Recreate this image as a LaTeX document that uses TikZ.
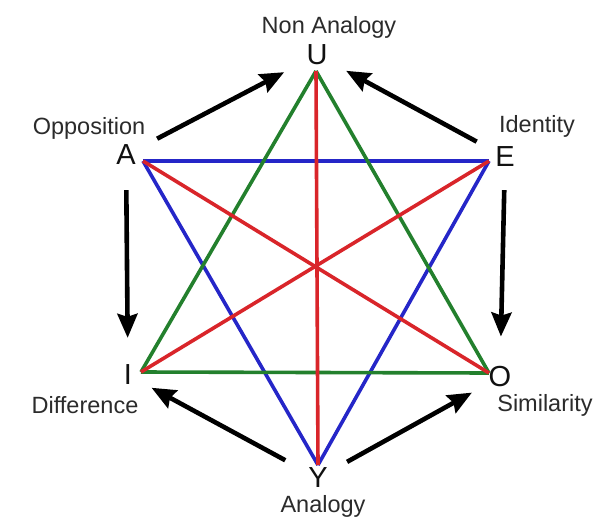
\documentclass[tikz,border=0pt]{standalone}
\usepackage{fontspec}
\setmainfont{Liberation Sans}
\usetikzlibrary{arrows.meta}
\definecolor{ink}{HTML}{111111}
\definecolor{muted}{HTML}{2B2B2B}
\definecolor{redline}{HTML}{D9252A}
\definecolor{blueline}{HTML}{2526C8}
\definecolor{greenline}{HTML}{23802D}
\tikzset{
  vertex/.style={font=\fontsize{29}{31}\selectfont,text=ink,inner sep=0pt},
  tag/.style={font=\fontsize{23.5}{26}\selectfont,text=muted,inner sep=0pt},
  link/.style={line width=3.6pt,draw=#1},
  turn/.style={-{Stealth[length=24pt,width=20pt,inset=3pt]},line width=4.6pt,draw=black}
}
\begin{document}
\begin{tikzpicture}[x=1pt,y=-1pt]
    \useasboundingbox[fill=white] (0,0) rectangle (614,528);

    % letters at the corners
    \node[vertex] (U) at (317,55) {U};
    \node[vertex] (A) at (126,155) {A};
    \node[vertex] (E) at (505,157) {E};
    \node[vertex] (I) at (128,375) {I};
    \node[vertex] (O) at (500,377) {O};
    \node[vertex] (Y) at (318,478) {Y};

    \node[tag] (nonanalogy) at (329,27) {Non Analogy};
    \node[tag] (opposition) at (89,128) {Opposition};
    \node[tag] (identity) at (537,126) {Identity};
    \node[tag] (difference) at (85,405) {Difference};
    \node[tag] (similarity) at (545,405) {Similarity};
    \node[tag] (analogy) at (323,506) {Analogy};

    % where the coloured lines meet
    \coordinate (u) at (316,71);
    \coordinate (a) at (143,161);
    \coordinate (e) at (489,161);
    \coordinate (i) at (141,372);
    \coordinate (o) at (489,373);
    \coordinate (y) at (318,465);

    \draw[link=blueline] (a) -- (e);
    \draw[link=blueline] (a) -- (y);
    \draw[link=blueline] (e) -- (y);
    \draw[link=greenline] (u) -- (i);
    \draw[link=greenline] (u) -- (o);
    \draw[link=greenline] (i) -- (o);
    \draw[link=redline] (a) -- (o);
    \draw[link=redline] (e) -- (i);
    \draw[link=redline] (u) -- (y);

    % outer arrows
    \draw[turn,shorten <=24pt,shorten >=25pt] (A) -- (U);
    \draw[turn,shorten <=21pt,shorten >=21pt] (E) -- (U);
    \draw[turn,shorten <=25pt,shorten >=27pt] (A) -- (I);
    \draw[turn,shorten <=23pt,shorten >=30pt] (E) -- (O);
    \draw[turn,shorten <=26pt,shorten >=22pt] (Y) -- (I);
    \draw[turn,shorten <=22pt,shorten >=19pt] (Y) -- (O);
\end{tikzpicture}
\end{document}
